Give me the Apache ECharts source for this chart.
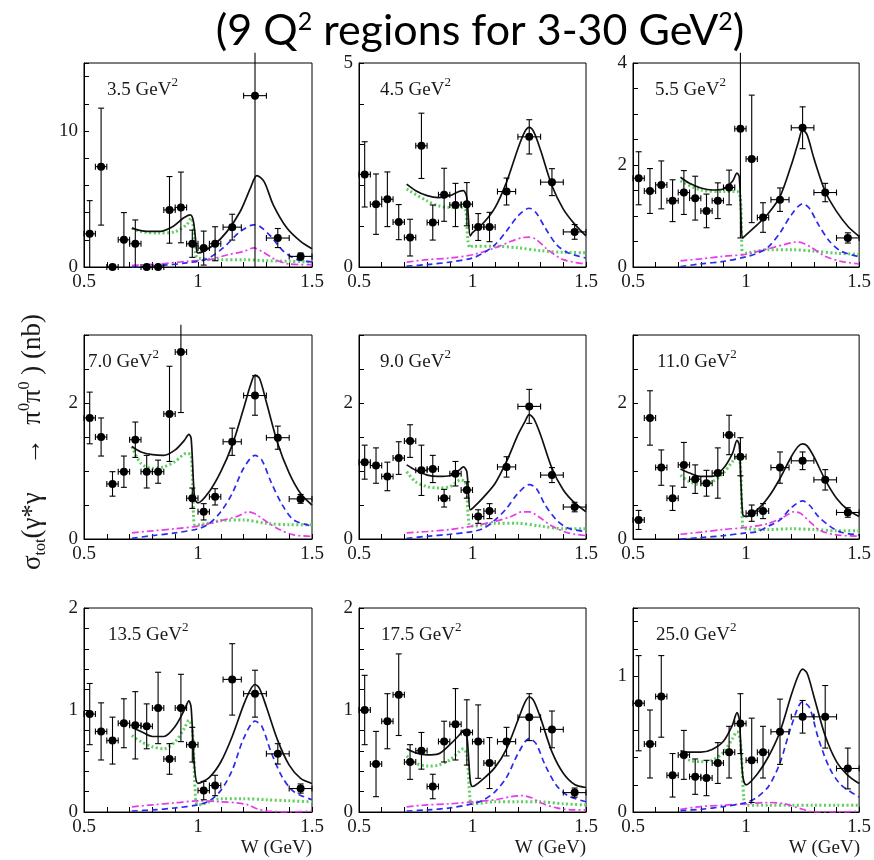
<!DOCTYPE html>
<html><head><meta charset="utf-8">
<script src="https://cdn.jsdelivr.net/npm/echarts@6/dist/echarts.min.js"></script>
<style>html,body{margin:0;padding:0;background:#fff}#c{width:874px;height:860px}</style>
</head><body><div id="c"></div>
<script>
// ---------------- data ----------------
const Q2_LABELS = ['3.5', '4.5', '5.5', '7.0', '9.0', '11.0', '13.5', '17.5', '25.0'];
const W_BINS = [0.525, 0.575, 0.625, 0.675, 0.725, 0.775, 0.825, 0.875, 0.925, 0.975, 1.025, 1.075, 1.15, 1.25, 1.35, 1.45];
const W_HALF = [0.025, 0.025, 0.025, 0.025, 0.025, 0.025, 0.025, 0.025, 0.025, 0.025, 0.025, 0.025, 0.04, 0.05, 0.05, 0.05];
const X_TICK_LABELS = [0.5, 1, 1.5];
const Y_MAX = [15, 5, 4, 3, 3, 3, 2, 2, 1.5];
const Y_TICK = [2, 1, 0.5, 0.5, 0.5, 0.5, 0.2, 0.2, 0.2];
const Y_TICK_LABELS = [[0, 10], [0, 5], [0, 2, 4], [0, 2], [0, 2], [0, 2], [0, 1, 2], [0, 1, 2], [0, 1]];

const SIGMA_Q35 = [2.44, 7.38, 0, 2.0, 1.71, 0, 0, 4.2, 4.38, 1.71, 1.39, 1.71, 2.93, 12.6, 2.13, 0.78];
const ERR_Q35 = [2.44, 4.3, 0, 2.0, 1.75, 0, 0, 2.45, 2.6, 1.0, 1.25, 1.25, 0.95, 12.6, 0.7, 0.25];
const SIGMA_Q45 = [2.27, 1.54, 1.66, 1.1, 0.72, 2.97, 1.09, 1.77, 1.52, 1.54, 0.98, 0.98, 1.85, 3.19, 2.08, 0.86];
const ERR_Q45 = [0.8, 0.74, 0.67, 0.43, 0.45, 0.8, 0.43, 0.65, 0.53, 0.53, 0.33, 0.36, 0.33, 0.42, 0.33, 0.18];
const SIGMA_Q55 = [1.74, 1.49, 1.61, 1.3, 1.46, 1.35, 1.1, 1.3, 1.56, 2.71, 2.12, 0.97, 1.32, 2.73, 1.46, 0.57];
const ERR_Q55 = [0.52, 0.44, 0.47, 0.41, 0.43, 0.43, 0.33, 0.35, 0.34, 2.14, 1.25, 0.29, 0.23, 0.41, 0.18, 0.1];
const SIGMA_Q70 = [1.78, 1.5, 0.81, 0.99, 1.46, 0.99, 0.99, 1.84, 2.75, 0.6, 0.4, 0.62, 1.43, 2.11, 1.49, 0.59];
const ERR_Q70 = [0.38, 0.28, 0.18, 0.23, 0.26, 0.24, 0.17, 0.7, 0.89, 0.15, 0.12, 0.12, 0.2, 0.29, 0.17, 0.065];
const SIGMA_Q90 = [1.13, 1.08, 0.92, 1.19, 1.44, 1.01, 1.03, 0.6, 0.96, 0.72, 0.33, 0.41, 1.06, 1.95, 0.94, 0.47];
const ERR_Q90 = [0.25, 0.26, 0.21, 0.24, 0.24, 0.37, 0.2, 0.13, 0.18, 0.12, 0.1, 0.11, 0.15, 0.25, 0.11, 0.07];
const SIGMA_Q110 = [0.28, 1.78, 1.05, 0.6, 1.09, 0.88, 0.82, 0.97, 1.53, 1.21, 0.38, 0.41, 1.05, 1.15, 0.87, 0.39];
const ERR_Q110 = [0.14, 0.4, 0.26, 0.18, 0.33, 0.21, 0.19, 0.37, 0.29, 0.28, 0.12, 0.11, 0.23, 0.13, 0.15, 0.07];
const SIGMA_Q135 = [0.96, 0.79, 0.7, 0.87, 0.85, 0.84, 1.02, 0.52, 1.02, 0.66, 0.21, 0.26, 1.3, 1.16, 0.57, 0.23];
const ERR_Q135 = [0.3, 0.28, 0.23, 0.24, 0.33, 0.22, 0.35, 0.15, 0.33, 0.17, 0.09, 0.1, 0.35, 0.23, 0.1, 0.045];
const SIGMA_Q175 = [1.0, 0.47, 0.89, 1.15, 0.49, 0.6, 0.25, 0.69, 0.86, 0.78, 0.69, 0.48, 0.69, 0.93, 0.81, 0.19];
const ERR_Q175 = [0.34, 0.32, 0.27, 0.4, 0.17, 0.18, 0.12, 0.2, 0.35, 0.32, 0.36, 0.25, 0.14, 0.23, 0.18, 0.045];
const SIGMA_Q250 = [0.8, 0.5, 0.85, 0.27, 0.42, 0.26, 0.25, 0.36, 0.44, 0.65, 0.38, 0.44, 0.59, 0.7, 0.7, 0.32];
const ERR_Q250 = [0.35, 0.25, 0.3, 0.16, 0.18, 0.13, 0.13, 0.15, 0.19, 0.22, 0.31, 0.19, 0.24, 0.12, 0.23, 0.15];

// fit curves: [W, sigma]
const TOTAL_Q35 = [[0.71,2.86],[0.775,2.62],[0.834,2.62],[0.89,2.98],[0.936,3.6],[0.966,3.84],[0.98,3.35],[0.995,1.15],[1.0,1.03],[1.07,1.64],[1.127,2.6],[1.185,4.08],[1.23,5.8],[1.258,6.72],[1.29,6.28],[1.33,4.57],[1.39,2.86],[1.45,1.88],[1.5,1.34]];
const HEL2_Q35 = [[0.71,0],[0.83,0.1],[0.95,0.3],[1.04,0.6],[1.11,1.4],[1.185,2.6],[1.245,3.1],[1.27,3.0],[1.32,2.25],[1.375,1.15],[1.435,0.54],[1.5,0.37]];
const HEL0_Q35 = [[0.71,0.12],[0.83,0.22],[0.95,0.42],[1.05,0.54],[1.13,0.9],[1.2,1.15],[1.245,1.4],[1.28,1.15],[1.34,0.54],[1.4,0.22],[1.5,0.17]];
const SWAVE_Q35 = [[0.71,2.86],[0.75,2.6],[0.83,2.5],[0.9,2.6],[0.95,3.1],[0.97,3.6],[0.98,2.86],[0.99,0.9],[1.0,0.66],[1.1,0.54],[1.2,0.54],[1.3,0.46],[1.4,0.42],[1.5,0.37]];

const TOTAL_Q45 = [[0.71,2.03],[0.75,1.87],[0.8,1.75],[0.85,1.7],[0.9,1.75],[0.94,1.85],[0.96,1.87],[0.975,1.7],[0.99,0.76],[1.0,0.84],[1.05,1.09],[1.1,1.46],[1.15,2.08],[1.2,2.9],[1.23,3.31],[1.25,3.42],[1.27,3.31],[1.3,2.86],[1.35,1.99],[1.4,1.42],[1.45,1.05],[1.5,0.76]];
const HEL2_Q45 = [[0.71,0.02],[0.8,0.06],[0.9,0.12],[1.0,0.22],[1.05,0.35],[1.1,0.55],[1.15,0.88],[1.2,1.25],[1.25,1.44],[1.28,1.33],[1.32,0.96],[1.37,0.55],[1.42,0.35],[1.5,0.22]];
const HEL0_Q45 = [[0.71,0.12],[0.8,0.18],[0.9,0.22],[1.0,0.3],[1.1,0.47],[1.17,0.63],[1.22,0.72],[1.25,0.73],[1.28,0.68],[1.33,0.43],[1.4,0.18],[1.5,0.07]];
const SWAVE_Q45 = [[0.71,1.91],[0.8,1.62],[0.85,1.5],[0.9,1.46],[0.95,1.46],[0.97,1.38],[0.98,0.63],[0.99,0.47],[1.0,0.51],[1.1,0.51],[1.2,0.47],[1.3,0.4],[1.4,0.36],[1.5,0.35]];

const TOTAL_Q55 = [[0.71,1.76],[0.75,1.64],[0.8,1.55],[0.85,1.51],[0.9,1.53],[0.94,1.68],[0.96,1.84],[0.97,1.77],[0.985,0.57],[1.0,0.63],[1.05,0.83],[1.1,1.06],[1.15,1.38],[1.2,2.0],[1.23,2.43],[1.25,2.69],[1.27,2.59],[1.3,2.13],[1.35,1.48],[1.4,1.09],[1.45,0.8],[1.5,0.6]];
const HEL2_Q55 = [[0.71,0.01],[0.8,0.06],[0.9,0.11],[1.0,0.2],[1.05,0.27],[1.1,0.4],[1.15,0.67],[1.2,1.02],[1.25,1.24],[1.28,1.15],[1.32,0.83],[1.37,0.5],[1.42,0.31],[1.5,0.2]];
const HEL0_Q55 = [[0.71,0.12],[0.8,0.16],[0.9,0.21],[1.0,0.25],[1.1,0.36],[1.17,0.44],[1.22,0.49],[1.25,0.47],[1.29,0.38],[1.35,0.21],[1.42,0.11],[1.5,0.06]];
const SWAVE_Q55 = [[0.71,1.69],[0.8,1.51],[0.9,1.48],[0.96,1.48],[0.975,1.35],[0.985,0.24],[1.0,0.27],[1.1,0.34],[1.2,0.34],[1.3,0.31],[1.4,0.27],[1.5,0.25]];

const TOTAL_Q70 = [[0.71,1.36],[0.75,1.28],[0.8,1.24],[0.85,1.23],[0.9,1.31],[0.94,1.45],[0.96,1.54],[0.97,1.48],[0.985,0.6],[1.0,0.53],[1.05,0.7],[1.1,0.99],[1.15,1.38],[1.2,1.92],[1.23,2.26],[1.25,2.41],[1.27,2.36],[1.3,2.01],[1.35,1.4],[1.4,0.97],[1.45,0.67],[1.5,0.5]];
const HEL2_Q70 = [[0.71,0.01],[0.8,0.05],[0.9,0.09],[1.0,0.15],[1.05,0.23],[1.1,0.4],[1.15,0.67],[1.2,1.04],[1.25,1.23],[1.28,1.16],[1.32,0.84],[1.37,0.5],[1.42,0.28],[1.5,0.19]];
const HEL0_Q70 = [[0.71,0.09],[0.8,0.12],[0.9,0.15],[1.0,0.19],[1.1,0.27],[1.17,0.33],[1.22,0.4],[1.25,0.37],[1.29,0.28],[1.35,0.15],[1.42,0.06],[1.5,0.04]];
const SWAVE_Q70 = [[0.71,1.36],[0.75,1.11],[0.8,1.04],[0.85,1.06],[0.9,1.14],[0.95,1.26],[0.97,1.23],[0.985,0.21],[1.0,0.21],[1.1,0.27],[1.2,0.28],[1.3,0.23],[1.4,0.21],[1.5,0.21]];

const TOTAL_Q90 = [[0.71,1.09],[0.75,1.01],[0.8,0.94],[0.85,0.92],[0.9,0.93],[0.94,1.01],[0.96,1.06],[0.975,0.99],[0.99,0.43],[1.0,0.45],[1.05,0.62],[1.1,0.82],[1.15,1.14],[1.2,1.53],[1.23,1.72],[1.25,1.83],[1.27,1.77],[1.3,1.53],[1.35,1.04],[1.4,0.72],[1.45,0.53],[1.5,0.4]];
const HEL2_Q90 = [[0.71,0.01],[0.8,0.04],[0.9,0.07],[1.0,0.11],[1.05,0.16],[1.1,0.28],[1.15,0.45],[1.2,0.67],[1.25,0.8],[1.28,0.75],[1.32,0.5],[1.37,0.28],[1.42,0.16],[1.5,0.11]];
const HEL0_Q90 = [[0.71,0.09],[0.8,0.11],[0.9,0.14],[1.0,0.19],[1.1,0.26],[1.17,0.33],[1.22,0.4],[1.25,0.4],[1.29,0.33],[1.35,0.19],[1.42,0.09],[1.5,0.05]];
const SWAVE_Q90 = [[0.71,0.99],[0.75,0.84],[0.8,0.77],[0.85,0.75],[0.9,0.77],[0.95,0.87],[0.97,0.82],[0.985,0.21],[1.0,0.19],[1.1,0.23],[1.2,0.23],[1.3,0.19],[1.4,0.15],[1.5,0.15]];

const TOTAL_Q110 = [[0.71,1.03],[0.75,0.97],[0.8,0.92],[0.85,0.92],[0.9,1.04],[0.94,1.26],[0.96,1.45],[0.97,1.38],[0.985,0.36],[1.0,0.33],[1.05,0.43],[1.1,0.62],[1.15,0.89],[1.2,1.21],[1.23,1.36],[1.25,1.4],[1.27,1.37],[1.3,1.21],[1.35,0.87],[1.4,0.6],[1.45,0.43],[1.5,0.33]];
const HEL2_Q110 = [[0.71,0],[0.8,0.02],[0.9,0.05],[1.0,0.09],[1.05,0.11],[1.1,0.19],[1.15,0.28],[1.2,0.46],[1.25,0.56],[1.28,0.5],[1.32,0.33],[1.37,0.19],[1.42,0.1],[1.5,0.06]];
const HEL0_Q110 = [[0.71,0.07],[0.8,0.1],[0.9,0.14],[1.0,0.17],[1.1,0.23],[1.17,0.33],[1.21,0.4],[1.24,0.38],[1.28,0.26],[1.33,0.12],[1.4,0.06],[1.5,0.04]];
const SWAVE_Q110 = [[0.71,0.94],[0.75,0.84],[0.8,0.8],[0.85,0.84],[0.9,0.97],[0.94,1.14],[0.96,1.21],[0.975,1.09],[0.985,0.19],[1.0,0.15],[1.1,0.14],[1.2,0.15],[1.3,0.14],[1.4,0.12],[1.5,0.12]];

const TOTAL_Q135 = [[0.71,0.83],[0.75,0.79],[0.8,0.74],[0.85,0.74],[0.9,0.84],[0.94,1.0],[0.96,1.09],[0.97,1.02],[0.985,0.43],[1.0,0.28],[1.05,0.34],[1.1,0.49],[1.15,0.74],[1.2,1.05],[1.23,1.2],[1.25,1.25],[1.27,1.21],[1.3,1.03],[1.35,0.7],[1.4,0.46],[1.45,0.33],[1.5,0.28]];
const HEL2_Q135 = [[0.71,0.01],[0.8,0.02],[0.9,0.04],[1.0,0.07],[1.05,0.11],[1.1,0.21],[1.15,0.41],[1.2,0.72],[1.25,0.89],[1.28,0.84],[1.32,0.59],[1.37,0.34],[1.42,0.2],[1.5,0.12]];
const HEL0_Q135 = [[0.71,0.05],[0.8,0.07],[0.9,0.09],[1.0,0.11],[1.1,0.1],[1.17,0.09],[1.22,0.07],[1.26,0.03],[1.3,0.01],[1.4,0],[1.5,0.01]];
const SWAVE_Q135 = [[0.71,0.75],[0.75,0.69],[0.8,0.64],[0.85,0.62],[0.9,0.69],[0.94,0.82],[0.96,0.9],[0.975,0.82],[0.99,0.11],[1.0,0.07],[1.1,0.13],[1.2,0.13],[1.3,0.12],[1.4,0.11],[1.5,0.1]];

const TOTAL_Q175 = [[0.71,0.62],[0.75,0.58],[0.8,0.56],[0.85,0.57],[0.9,0.66],[0.94,0.75],[0.96,0.8],[0.975,0.75],[0.99,0.31],[1.0,0.25],[1.05,0.33],[1.1,0.44],[1.15,0.62],[1.2,0.9],[1.23,1.07],[1.25,1.13],[1.27,1.09],[1.3,0.92],[1.35,0.59],[1.4,0.38],[1.45,0.27],[1.5,0.24]];
const HEL2_Q175 = [[0.71,0.01],[0.8,0.02],[0.9,0.04],[1.0,0.08],[1.05,0.12],[1.1,0.2],[1.15,0.34],[1.2,0.57],[1.25,0.72],[1.28,0.67],[1.32,0.46],[1.37,0.26],[1.42,0.16],[1.5,0.1]];
const HEL0_Q175 = [[0.71,0.05],[0.8,0.07],[0.9,0.08],[1.0,0.1],[1.1,0.12],[1.17,0.15],[1.22,0.16],[1.26,0.14],[1.3,0.09],[1.37,0.04],[1.45,0.02],[1.5,0.02]];
const SWAVE_Q175 = [[0.71,0.55],[0.75,0.48],[0.8,0.45],[0.85,0.46],[0.9,0.51],[0.94,0.59],[0.96,0.62],[0.975,0.56],[0.99,0.11],[1.0,0.08],[1.1,0.1],[1.2,0.1],[1.3,0.1],[1.4,0.08],[1.5,0.07]];

const TOTAL_Q250 = [[0.71,0.45],[0.75,0.44],[0.8,0.44],[0.85,0.46],[0.9,0.52],[0.94,0.64],[0.96,0.73],[0.97,0.68],[0.985,0.27],[1.0,0.2],[1.05,0.28],[1.1,0.41],[1.15,0.59],[1.2,0.86],[1.23,1.0],[1.25,1.05],[1.27,1.02],[1.3,0.85],[1.35,0.56],[1.4,0.37],[1.45,0.27],[1.5,0.21]];
const HEL2_Q250 = [[0.71,0.01],[0.8,0.02],[0.9,0.04],[1.0,0.07],[1.05,0.11],[1.1,0.19],[1.15,0.36],[1.2,0.63],[1.25,0.81],[1.28,0.77],[1.32,0.54],[1.37,0.32],[1.42,0.2],[1.5,0.11]];
const HEL0_Q250 = [[0.71,0.02],[0.8,0.04],[0.9,0.05],[1.0,0.06],[1.1,0.07],[1.17,0.06],[1.25,0.02],[1.3,0],[1.4,0],[1.5,0.005]];
const SWAVE_Q250 = [[0.71,0.42],[0.75,0.38],[0.8,0.37],[0.85,0.38],[0.9,0.44],[0.94,0.54],[0.96,0.59],[0.975,0.52],[0.99,0.1],[1.0,0.05],[1.1,0.05],[1.2,0.05],[1.3,0.05],[1.4,0.05],[1.5,0.05]];

const SIGMA = [SIGMA_Q35, SIGMA_Q45, SIGMA_Q55, SIGMA_Q70, SIGMA_Q90, SIGMA_Q110, SIGMA_Q135, SIGMA_Q175, SIGMA_Q250];
const ERR = [ERR_Q35, ERR_Q45, ERR_Q55, ERR_Q70, ERR_Q90, ERR_Q110, ERR_Q135, ERR_Q175, ERR_Q250];
const TOTAL = [TOTAL_Q35, TOTAL_Q45, TOTAL_Q55, TOTAL_Q70, TOTAL_Q90, TOTAL_Q110, TOTAL_Q135, TOTAL_Q175, TOTAL_Q250];
const HEL2 = [HEL2_Q35, HEL2_Q45, HEL2_Q55, HEL2_Q70, HEL2_Q90, HEL2_Q110, HEL2_Q135, HEL2_Q175, HEL2_Q250];
const HEL0 = [HEL0_Q35, HEL0_Q45, HEL0_Q55, HEL0_Q70, HEL0_Q90, HEL0_Q110, HEL0_Q135, HEL0_Q175, HEL0_Q250];
const SWAVE = [SWAVE_Q35, SWAVE_Q45, SWAVE_Q55, SWAVE_Q70, SWAVE_Q90, SWAVE_Q110, SWAVE_Q135, SWAVE_Q175, SWAVE_Q250];

// ---------------- layout ----------------
const COL_LEFT = [84, 359, 633];
const COL_W = [228, 227, 227];
const ROW_TOP = [63, 335, 608];
const PANEL_H = 204;
const LABEL_DX = [23, 21, 22, 4, 21, 24, 24, 22, 23];
const SERIF = '"Liberation Serif", "Times New Roman", serif';
const TITLE_FONT = 'Lato, "Open Sans", sans-serif';

const chart = echarts.init(document.getElementById('c'), null, {renderer: 'canvas'});
const grids = [], xAxes = [], yAxes = [], series = [], graphics = [];
const near = (v, list) => list.some(t => Math.abs(v - t) < 1e-6);

for (let i = 0; i < 9; i++) {
  const r = Math.floor(i / 3), c = i % 3;
  const left = COL_LEFT[c], top = ROW_TOP[r], w = COL_W[c];
  grids.push({left: left, top: top, width: w, height: PANEL_H, show: true, borderColor: '#000', borderWidth: 1, backgroundColor: 'transparent'});
  xAxes.push({
    type: 'value', gridIndex: i, min: 0.5, max: 1.5, interval: 0.1,
    axisLine: {show: true, lineStyle: {color: '#000', width: 1}},
    axisTick: {show: true, inside: true, length: 5, lineStyle: {color: '#000'}},
    splitLine: {show: false},
    axisLabel: {margin: 6, color: '#1a1a1a', fontFamily: SERIF, fontSize: 19,
      formatter: v => near(v, X_TICK_LABELS) ? String(Math.round(v * 10) / 10) : ''}
  });
  const labs = Y_TICK_LABELS[i];
  yAxes.push({
    type: 'value', gridIndex: i, min: 0, max: Y_MAX[i], interval: Y_TICK[i],
    axisLine: {show: true, lineStyle: {color: '#000', width: 1}},
    axisTick: {show: true, inside: true, length: 5, lineStyle: {color: '#000'}},
    splitLine: {show: false},
    axisLabel: {margin: 6, color: '#1a1a1a', fontFamily: SERIF, fontSize: 19,
      formatter: v => near(v, labs) ? String(Math.round(v * 10) / 10) : ''}
  });
  const lineBase = {type: 'line', xAxisIndex: i, yAxisIndex: i, showSymbol: false, smooth: 0.3, silent: true, animation: false};
  series.push(Object.assign({}, lineBase, {data: SWAVE[i], z: 2, lineStyle: {color: '#5fcf5f', width: 3, type: [2, 2.5], cap: 'butt'}}));
  series.push(Object.assign({}, lineBase, {data: HEL0[i], z: 3, lineStyle: {color: '#e83ce8', width: 1.7, type: [7, 3, 2, 3]}}));
  series.push(Object.assign({}, lineBase, {data: HEL2[i], z: 3, lineStyle: {color: '#2b2bee', width: 1.7, type: [6, 4]}}));
  series.push(Object.assign({}, lineBase, {data: TOTAL[i], z: 4, lineStyle: {color: '#111', width: 1.7, type: 'solid'}}));
  const ymax = Y_MAX[i];
  series.push({
    type: 'custom', xAxisIndex: i, yAxisIndex: i, clip: false, z: 6, animation: false, silent: true,
    data: W_BINS.map((wv, k) => [wv, SIGMA[i][k], ERR[i][k], W_HALF[k]]),
    renderItem: function (params, api) {
      const x = api.value(0), y = api.value(1), ey = api.value(2), ex = api.value(3);
      const st = {stroke: '#000', lineWidth: 1.1};
      const ch = [];
      const p = api.coord([x, y]);
      if (ey > 0) {
        const loRaw = y - ey, hiRaw = y + ey;
        const lo = Math.max(0, loRaw), hi = Math.min(ymax * 1.05, hiRaw);
        const pl = api.coord([x, lo]), ph = api.coord([x, hi]);
        ch.push({type: 'line', shape: {x1: p[0], y1: pl[1], x2: p[0], y2: ph[1]}, style: st});
        if (loRaw > 0) ch.push({type: 'line', shape: {x1: p[0] - 3, y1: pl[1], x2: p[0] + 3, y2: pl[1]}, style: st});
        if (hiRaw <= ymax * 1.05) ch.push({type: 'line', shape: {x1: p[0] - 3, y1: ph[1], x2: p[0] + 3, y2: ph[1]}, style: st});
      }
      const pa = api.coord([x - ex, y]), pb = api.coord([x + ex, y]);
      ch.push({type: 'line', shape: {x1: pa[0], y1: p[1], x2: pb[0], y2: p[1]}, style: st});
      ch.push({type: 'line', shape: {x1: pa[0], y1: p[1] - 3, x2: pa[0], y2: p[1] + 3}, style: st});
      ch.push({type: 'line', shape: {x1: pb[0], y1: p[1] - 3, x2: pb[0], y2: p[1] + 3}, style: st});
      ch.push({type: 'circle', shape: {cx: p[0], cy: p[1], r: 4}, style: {fill: '#000'}});
      return {type: 'group', children: ch};
    }
  });
  graphics.push({
    type: 'text', left: left + LABEL_DX[i], top: top + 13, z: 10,
    style: {
      text: '{a|' + Q2_LABELS[i] + ' GeV}{s|2}',
      rich: {
        a: {fontFamily: SERIF, fontSize: 19, lineHeight: 24, verticalAlign: 'bottom', fill: '#1a1a1a'},
        s: {fontFamily: SERIF, fontSize: 13, lineHeight: 13, verticalAlign: 'top', fill: '#1a1a1a'}
      }
    }
  });
  if (r === 2) {
    graphics.push({
      type: 'text', right: 874 - (left + w), top: 839, z: 10,
      style: {text: 'W (GeV)', fontFamily: SERIF, fontSize: 19, fill: '#1a1a1a'}
    });
  }
}

// title
graphics.push({
  type: 'text', x: 480, y: 1, z: 10,
  style: {
    text: '{a|(9 Q}{s|2}{a| regions for 3-30 GeV}{s|2}{a|)}',
    align: 'center', verticalAlign: 'top',
    rich: {
      a: {fontFamily: TITLE_FONT, fontSize: 43, lineHeight: 52, verticalAlign: 'bottom', fill: '#000'},
      s: {fontFamily: TITLE_FONT, fontSize: 25, lineHeight: 28, verticalAlign: 'top', padding: [8, 0, 0, 0], fill: '#000'}
    }
  }
});
// y-axis title
graphics.push({
  type: 'text', x: 33, y: 442, rotation: Math.PI / 2, z: 10,
  style: {
    text: '{m|σ}{b|tot}{m|(γ*γ    →  π}{t|0}{m|π}{t|0}{m| ) (nb)}',
    align: 'center', verticalAlign: 'middle',
    rich: {
      m: {fontFamily: SERIF, fontSize: 27, lineHeight: 32, verticalAlign: 'middle', fill: '#1a1a1a'},
      b: {fontFamily: SERIF, fontSize: 16, lineHeight: 16, verticalAlign: 'bottom', fill: '#1a1a1a'},
      t: {fontFamily: SERIF, fontSize: 16, lineHeight: 16, verticalAlign: 'top', fill: '#1a1a1a'}
    }
  }
});

chart.setOption({
  animation: false,
  backgroundColor: '#fff',
  grid: grids, xAxis: xAxes, yAxis: yAxes, series: series, graphic: graphics
});
</script></body></html>
